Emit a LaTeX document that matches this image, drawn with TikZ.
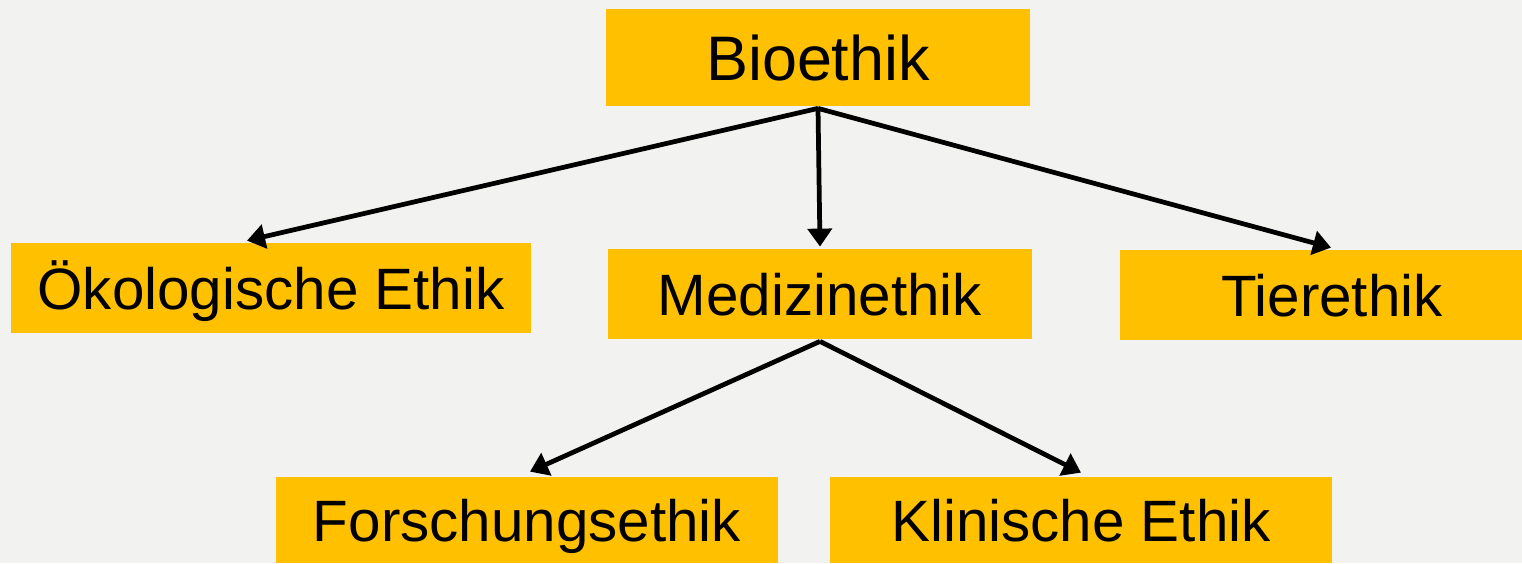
\documentclass[tikz,border=0pt]{standalone}
\usepackage{fontspec}
\setmainfont{Liberation Sans}
\usetikzlibrary{arrows.meta}
\definecolor{boxorange}{RGB}{255,192,0}
\definecolor{bggray}{RGB}{242,242,240}

\begin{document}
\begin{tikzpicture}[main/.style = {fill=boxorange, inner sep=0pt, minimum height=9mm, text height=12pt, text depth=0pt, font=\fontsize{16.6}{20}\selectfont}, >={Triangle[width=2.4mm,length=1.8mm]}, line width=1.35pt]
    \fill[bggray] (0,0) rectangle (15.22,-5.63);

    \node[main, minimum width=42.4mm, minimum height=9.7mm, text height=12.9pt, font=\fontsize{17.9}{21}\selectfont](bioethik) at (8.18,-0.575) {Bioethik};

    \node[main, minimum width=52mm](oeko) at (2.71,-2.88) {Ökologische Ethik};
    \node[main, minimum width=42.4mm](medizin) at (8.20,-2.94) {Medizinethik};
    \node[main, minimum width=40.2mm](tier) at (13.21,-2.95) {\hspace{2.2mm}Tierethik};

    \node[main, minimum width=50.2mm, minimum height=8.6mm](forschung) at (5.27,-5.20) {Forschungsethik};
    \node[main, minimum width=50.2mm, minimum height=8.6mm](klinik) at (10.81,-5.20) {Klinische Ethik};

    \draw[->](bioethik.south) -- ([xshift=-2.4mm]oeko.north);
    \draw[->](bioethik.south) -- (medizin.north);
    \draw[->](bioethik.south) -- ([xshift=1mm]tier.north);

    \draw[->](medizin.south) -- ([xshift=0.3mm, yshift=0.3mm]forschung.north);
    \draw[->](medizin.south) -- ([yshift=0.2mm]klinik.north);
\end{tikzpicture}
\end{document}
